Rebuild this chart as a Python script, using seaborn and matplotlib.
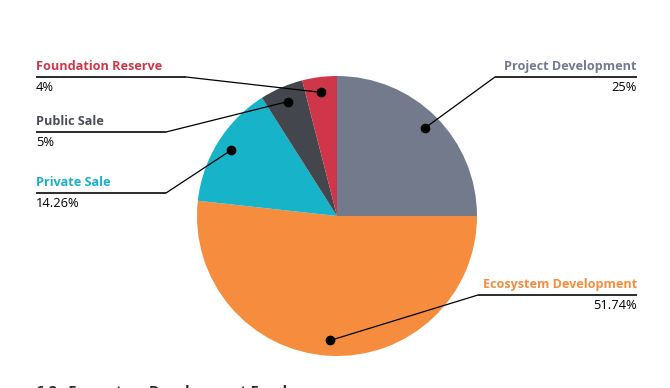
import numpy as np
import matplotlib
matplotlib.use("Agg")
import matplotlib.pyplot as plt
import seaborn as sns

categories = ["Project Development", "Ecosystem Development", "Private Sale", "Public Sale", "Foundation Reserve"]
values = [25, 51.74, 14.26, 5, 4]
value_labels = ["25%", "51.74%", "14.26%", "5%", "4%"]
colors = ["#737a8c", "#f68d3e", "#16b3c9", "#44464d", "#d0364a"]
label_colors = ["#737a8c", "#f68d3e", "#16b3c9", "#4b4d55", "#d0364a"]
# label layout: side, elbow position (pixels, y measured from top)
label_side = ["right", "right", "left", "left", "left"]
elbows = [(495, 77), (478, 295), (166, 193), (166, 132), (186, 77)]

sns.set_theme(style="white")
plt.rcParams["font.family"] = ["Open Sans", "DejaVu Sans"]

W, H = 670, 388
fig = plt.figure(figsize=(W / 100, H / 100), dpi=100)
ax = fig.add_axes([0, 0, 1, 1])

cx, cy, r = 337, H - 216, 140
wedges, _ = ax.pie(values, colors=colors, startangle=90, counterclock=False,
                   center=(cx, cy), radius=r, frame=True,
                   wedgeprops=dict(linewidth=0))
ax.set_xlim(0, W)
ax.set_ylim(0, H)
ax.set_aspect("equal")
ax.axis("off")

for w, lab, val, col, side, (ex, ey) in zip(wedges, categories, value_labels,
                                             label_colors, label_side, elbows):
    mid = np.deg2rad((w.theta1 + w.theta2) / 2)
    px = cx + 0.89 * r * np.cos(mid)
    py = cy + 0.89 * r * np.sin(mid)
    ey = H - ey
    ax.plot([px, ex], [py, ey], color="black", lw=0.9, zorder=5)
    ax.plot(px, py, "o", color="black", markersize=6, zorder=6)
    if side == "left":
        xe, ha = 36, "left"
    else:
        xe, ha = 637, "right"
    ax.plot([ex, xe], [ey, ey], color="#2b2b2b", lw=1.4, zorder=5,
            solid_capstyle="butt")
    ax.text(xe, ey + 4, lab, ha=ha, va="bottom", fontsize=9.1, fontweight="bold",
            color=col)
    ax.text(xe, ey - 4, val, ha=ha, va="top", fontsize=9.3, color="black")

ax.text(36, 3, "6.2   Ecosystem Development Funds", ha="left", va="top",
        fontsize=10.5, fontweight="bold", color="#2b2b2b")

fig.savefig("out.png", dpi=100)
